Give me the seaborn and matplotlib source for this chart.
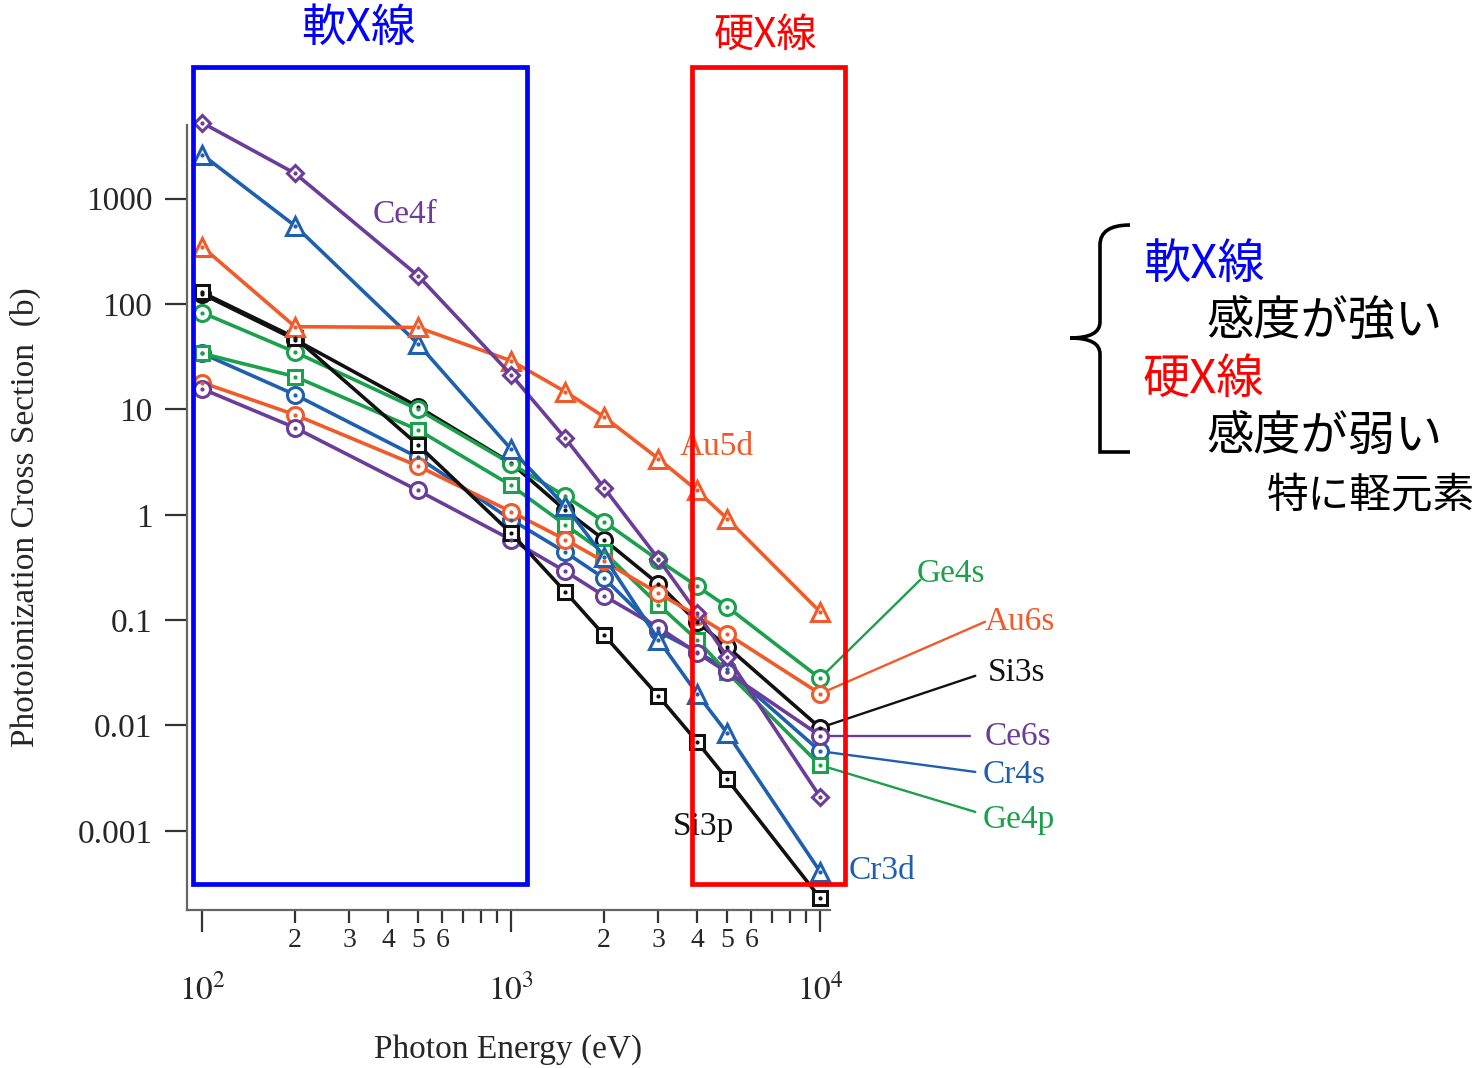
# --- 1. THE TOOLS ---
import pandas as pd
import matplotlib
matplotlib.use("Agg")
import matplotlib.pyplot as plt
import matplotlib.patches as mpatches
from matplotlib.path import Path
from matplotlib.ticker import FixedLocator, FixedFormatter, NullLocator
import seaborn as sns

# --- 2. THE DATA ---
energy = [100, 200, 500, 1000, 1500, 2000, 3000, 4000, 5000, 10000]

ce4f = [5270, 1740, 186, 21.4, 5.3, 1.8, 0.38, 0.117, 0.045, 0.0021]
cr3d = [2630, 553, 42, 4.2, 1.2, 0.4, 0.065, 0.020, 0.0085, 0.00041]
au5d = [351, 61, 60, 29, 14.7, 8.5, 3.4, 1.7, 0.92, 0.12]
si3p = [129, 48, 4.6, 0.67, 0.185, 0.072, 0.019, 0.0070, 0.0031, 0.00023]
ge4s = [83, 35, 10, 3.05, 1.5, 0.86, 0.37, 0.21, 0.134, 0.028]
au6s = [18, 8.9, 2.9, 1.07, 0.58, 0.36, 0.18, 0.11, 0.074, 0.020]
si3s = [125, 46, 10.6, 3.1, 1.1, 0.58, 0.22, 0.096, 0.056, 0.0095]
ce6s = [15.7, 6.7, 1.7, 0.58, 0.29, 0.17, 0.085, 0.049, 0.032, 0.008]
cr4s = [34, 13.8, 3.5, 0.9, 0.44, 0.25, 0.078, 0.05, 0.034, 0.0057]
ge4p = [34, 20.5, 6.4, 1.9, 0.8, 0.44, 0.14, 0.065, 0.032, 0.0042]

# drawing order (last one ends up on top)
series_names = ["Si3s", "Cr4s", "Ge4p", "Ge4s", "Au6s", "Ce6s", "Si3p", "Cr3d", "Au5d", "Ce4f"]
series_values = [si3s, cr4s, ge4p, ge4s, au6s, ce6s, si3p, cr3d, au5d, ce4f]

y_tick_values = [0.001, 0.01, 0.1, 1, 10, 100, 1000]
y_tick_labels = ["0.001", "0.01", "0.1", "1", "10", "100", "1000"]
x_major_ticks = [100, 1000, 10000]
x_major_labels = [r"$10^{2}$", r"$10^{3}$", r"$10^{4}$"]
x_minor_ticks = [m * d for d in (100, 1000) for m in range(2, 10)]
x_minor_labels = [str(m) if m <= 6 else "" for d in (100, 1000) for m in range(2, 10)]

# label text position (data coords) and where the leader line ends
label_pos = {
    "Ce4f": (357, 706), "Au5d": (3524, 4.42), "Si3p": (3340, 0.00109),
    "Cr3d": (12330, 4.16e-4), "Ge4s": (20600, 0.275), "Au6s": (34200, 0.0964),
    "Si3s": (35000, 0.0316), "Ce6s": (34200, 0.0078), "Cr4s": (33700, 0.0034),
    "Ge4p": (33700, 0.00127),
}
leader_end = {
    "Ge4s": (21100, 0.241), "Au6s": (34200, 0.0964), "Si3s": (31800, 0.0296),
    "Ce6s": (30500, 0.0080), "Cr4s": (31800, 0.00362), "Ge4p": (31800, 0.00151),
}

# --- 3. THE STYLE ---
purple = "#6a3d9a"
blue = "#1f5fb0"
orange = "#f15a29"
green = "#1ba04b"
black = "#111111"
palette = {"Ce4f": purple, "Cr3d": blue, "Au5d": orange, "Si3p": black, "Ge4s": green,
           "Au6s": orange, "Si3s": black, "Ce6s": purple, "Cr4s": blue, "Ge4p": green}
markers = {"Ce4f": "D", "Cr3d": "^", "Au5d": "^", "Si3p": "s", "Ge4s": "o",
           "Au6s": "o", "Si3s": "o", "Ce6s": "o", "Cr4s": "o", "Ge4p": "s"}
msizes = {"D": 8.5, "^": 12.5, "s": 10.5, "o": 11.5}

sns.set_style("ticks")
plt.rcParams["font.family"] = ["Liberation Serif", "DejaVu Serif"]
plt.rcParams["mathtext.fontset"] = "stix"
jp = ["Noto Sans CJK JP", "DejaVu Sans"]

# long table for seaborn
rows = []
for name, vals in zip(series_names, series_values):
    for e, v in zip(energy, vals):
        rows.append({"energy": e, "sigma": v, "orbital": name})
df = pd.DataFrame(rows)

# --- 4. THE PLOT ---
W, H = 1482, 1068
fig = plt.figure(figsize=(W / 100, H / 100), dpi=100)
ax = fig.add_axes([187 / W, 1 - 910 / H, 643 / W, 785 / H])

sns.lineplot(data=df, x="energy", y="sigma", hue="orbital", style="orbital",
             hue_order=series_names, style_order=series_names, palette=palette,
             markers=markers, dashes=False, sort=False, legend=False, ax=ax)

ax.set_xscale("log")
ax.set_yscale("log")
ax.set_xlim(89.4, 10770)
ax.set_ylim(1.77e-4, 5012)

for line, name in zip(ax.lines, series_names):
    c = palette[name]
    line.set_linewidth(2.6)
    line.set_markerfacecolor("white")
    line.set_markeredgecolor(c)
    line.set_markeredgewidth(2.2)
    line.set_markersize(msizes[markers[name]])
    line.set_clip_on(False)

# the little dot in the middle of every marker
for i, (name, vals) in enumerate(zip(series_names, series_values)):
    ax.plot(energy, vals, ls="none", marker="o", ms=2, color=palette[name], clip_on=False,
            zorder=2.01 + i * 0.001)
for i, line in enumerate(ax.lines[:len(series_names)]):
    line.set_zorder(2 + i * 0.001)

# series labels and leader lines
for name, vals in zip(series_names, series_values):
    c = palette[name]
    tx, ty = label_pos[name]
    ax.text(tx, ty, name, color=c, fontsize=24, ha="left", va="center", clip_on=False)
    if name in leader_end:
        ex, ey = leader_end[name]
        ax.plot([energy[-1], ex], [vals[-1], ey], color=c, lw=1.7, clip_on=False, zorder=1)

# axes cosmetics
sns.despine(ax=ax)
for s in ["left", "bottom"]:
    ax.spines[s].set_color("#666666")
    ax.spines[s].set_linewidth(1.6)

ax.yaxis.set_major_locator(FixedLocator(y_tick_values))
ax.yaxis.set_major_formatter(FixedFormatter(y_tick_labels))
ax.yaxis.set_minor_locator(NullLocator())
ax.xaxis.set_major_locator(FixedLocator(x_major_ticks))
ax.xaxis.set_major_formatter(FixedFormatter(x_major_labels))
ax.xaxis.set_minor_locator(FixedLocator(x_minor_ticks))
ax.xaxis.set_minor_formatter(FixedFormatter(x_minor_labels))
ax.tick_params(axis="y", which="major", length=16, width=1.6, pad=9, labelsize=24, color="#333333")
ax.tick_params(axis="x", which="major", length=16, width=1.6, pad=30, labelsize=24, color="#333333")
ax.tick_params(axis="x", which="minor", length=9, width=1.6, pad=4, labelsize=20, color="#333333")

ax.set_xlabel("Photon Energy (eV)", fontsize=24, labelpad=20)
ax.set_ylabel("Photoionization Cross Section  (b)", fontsize=24, labelpad=26)

# soft / hard X-ray boxes
ax.add_patch(mpatches.Rectangle((93.6, 3.13e-4), 1127 - 93.6, 17960, fill=False,
                                ec="#0000ff", lw=3.4, clip_on=False, zorder=6, joinstyle="miter"))
ax.add_patch(mpatches.Rectangle((3855, 3.13e-4), 12050 - 3855, 17960, fill=False,
                                ec="#ff0000", lw=3.4, clip_on=False, zorder=6, joinstyle="miter"))

# --- 5. THE NOTES ON THE RIGHT ---
fig.text(358 / W, 1 - 28 / H, "軟X線", color="#0000ff", fontsize=32, family=jp, ha="center", va="center")
fig.text(766 / W, 1 - 35 / H, "硬X線", color="#ff0000", fontsize=29, family=jp, ha="center", va="center")

fig.text(1143 / W, 1 - 265 / H, "軟X線", color="#0000ff", fontsize=34, family=jp, ha="left", va="center")
fig.text(1207 / W, 1 - 321 / H, "感度が強い", color="black", fontsize=34, family=jp, ha="left", va="center")
fig.text(1143 / W, 1 - 380 / H, "硬X線", color="#ff0000", fontsize=34, family=jp, ha="left", va="center")
fig.text(1207 / W, 1 - 437 / H, "感度が弱い", color="black", fontsize=34, family=jp, ha="left", va="center")
fig.text(1475 / W, 1 - 497 / H, "特に軽元素", color="black", fontsize=30, family=jp, style="italic",
         ha="right", va="center")

# curly brace
bx = [1130, 1100, 1100, 1100, 1100, 1070, 1100, 1100, 1100, 1100, 1100, 1130]
by = [225, 225, 245, 322, 338, 338, 338, 354, 432, 452, 452, 452]
codes = [Path.MOVETO, Path.CURVE3, Path.CURVE3, Path.LINETO, Path.CURVE3, Path.CURVE3,
         Path.CURVE3, Path.CURVE3, Path.LINETO, Path.CURVE3, Path.CURVE3, Path.LINETO]
verts = [(x / W, 1 - y / H) for x, y in zip(bx, by)]
fig.patches.append(mpatches.PathPatch(Path(verts, codes), fill=False, lw=2.6, ec="black",
                                      transform=fig.transFigure, figure=fig))

fig.savefig("out.png", dpi=100)
